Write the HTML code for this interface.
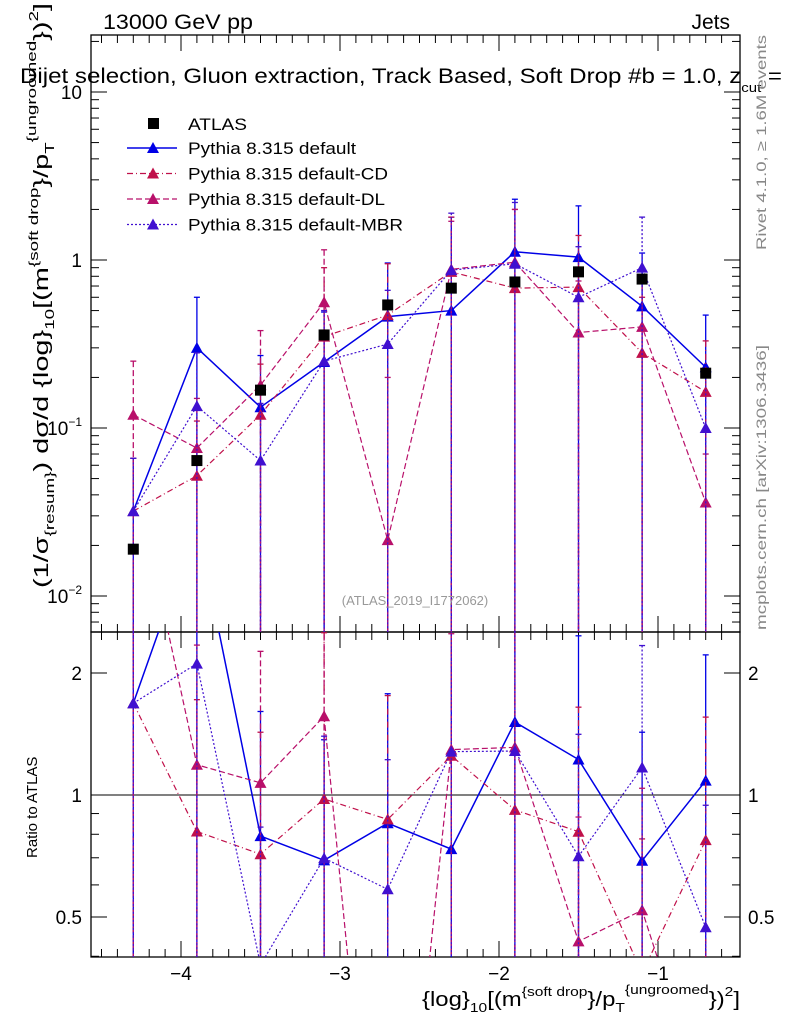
<!DOCTYPE html>
<html><head><meta charset="utf-8"><style>
body{margin:0;background:#fff;overflow:hidden;}
svg{font-family:"Liberation Sans",sans-serif;display:block;}
</style></head><body>
<svg id="c" width="786" height="1024" viewBox="0 0 786 1024">
<text x="103" y="29" font-size="21" textLength="150" lengthAdjust="spacingAndGlyphs">13000 GeV pp</text>
<text x="730" y="29" font-size="21" text-anchor="end">Jets</text>
<g id="frames"></g>
<g id="plot"></g>
<text x="20" y="83" font-size="21" textLength="762" lengthAdjust="spacingAndGlyphs">Dijet selection, Gluon extraction, Track Based, Soft Drop #b = 1.0, z<tspan font-size="13" dy="9">cut</tspan><tspan dy="-9"> =</tspan></text>
<g id="legend"></g>
<text x="415" y="605" font-size="13" fill="#999" text-anchor="middle">(ATLAS_2019_I1772062)</text>
<text transform="translate(766,250) rotate(-90)" font-size="14" fill="#888" textLength="215" lengthAdjust="spacingAndGlyphs">Rivet 4.1.0, ≥ 1.6M events</text>
<text transform="translate(766,630) rotate(-90)" font-size="14" fill="#888" textLength="285" lengthAdjust="spacingAndGlyphs">mcplots.cern.ch [arXiv:1306.3436]</text>
<text transform="translate(48,588) rotate(-90)" font-size="20" textLength="585" lengthAdjust="spacingAndGlyphs">(1/σ<tspan font-size="13" dy="6">{resum}</tspan><tspan dy="-6">) dσ/d {log}</tspan><tspan font-size="13" dy="6">10</tspan><tspan dy="-6">[(m</tspan><tspan font-size="13" dy="-10">{soft drop</tspan><tspan dy="10">}/p</tspan><tspan font-size="13" dy="6">T</tspan><tspan font-size="13" dy="-18">{ungroomed</tspan><tspan dy="12">})</tspan><tspan font-size="13" dy="-10">2</tspan><tspan dy="10">]</tspan></text>
<text transform="translate(37,858) rotate(-90)" font-size="15">Ratio to ATLAS</text>
<text x="422" y="1006" font-size="20" textLength="318" lengthAdjust="spacingAndGlyphs">{log}<tspan font-size="13" dy="6">10</tspan><tspan dy="-6">[(m</tspan><tspan font-size="13" dy="-10">{soft drop</tspan><tspan dy="10">}/p</tspan><tspan font-size="13" dy="6">T</tspan><tspan font-size="13" dy="-18">{ungroomed</tspan><tspan dy="12">})</tspan><tspan font-size="13" dy="-10">2</tspan><tspan dy="10">]</tspan></text>
</svg>
<script>
const xCenters=[-4.3,-3.9,-3.5,-3.1,-2.7,-2.3,-1.9,-1.5,-1.1,-0.7];
const atlasVals=[0.019,0.064,0.168,0.358,0.54,0.68,0.74,0.85,0.77,0.212];
const defVals=[0.032,0.30,0.133,0.247,0.46,0.50,1.12,1.04,0.53,0.23];
const cdVals=[0.032,0.052,0.12,0.35,0.47,0.85,0.68,0.69,0.28,0.164];
const dlVals=[0.12,0.076,0.18,0.56,0.0215,0.88,0.97,0.37,0.40,0.036];
const mbrVals=[0.032,0.135,0.064,0.25,0.316,0.87,0.95,0.60,0.90,0.10];
const defUp=[0.066,0.60,0.27,0.49,0.96,1.8,2.3,2.1,1.1,0.47];
const cdUp=[0.066,0.11,0.24,0.9,0.95,1.8,2.0,1.4,0.6,0.33];
const dlUp=[0.25,0.15,0.38,1.15,0.2,1.7,2.0,0.75,0.8,0.07];
const mbrUp=[0.066,0.28,0.14,0.5,0.66,1.9,2.2,1.2,1.8,0.2];
const xTicks=[-4,-3,-2,-1];
const yTicks=[0.01,0.1,1,10];
const rTicks=[0.5,1,2];

const NS="http://www.w3.org/2000/svg";
const L=91,R=740,T=35,M=632,B=957;
const sx=v=>181+(v+4)*159;
const sy=v=>260-Math.log10(v)*168;
const ry=v=>795-Math.log2(v)*122;
function mk(p,tag,a){const e=document.createElementNS(NS,tag);for(const k in a)e.setAttribute(k,a[k]);p.appendChild(e);return e;}
const svg=document.getElementById('c');
const fr=document.getElementById('frames');
const plot=document.getElementById('plot');
const defs=mk(svg,'defs',{});
const cp1=mk(defs,'clipPath',{id:'cp1'});mk(cp1,'rect',{x:L,y:T,width:R-L,height:M-T});
const cp2=mk(defs,'clipPath',{id:'cp2'});mk(cp2,'rect',{x:L,y:M,width:R-L,height:B-M});

const f1=mk(fr,'rect',{x:L,y:T,width:R-L,height:M-T,fill:'none',stroke:'#000','stroke-width':1.3});


const f2=mk(fr,'rect',{x:L,y:M,width:R-L,height:B-M,fill:'none',stroke:'#000','stroke-width':1.3});


const one=mk(fr,'line',{x1:L,x2:R,y1:ry(1),y2:ry(1),stroke:'#000','stroke-width':1});



for(let v=-4.5;v<=-0.5;v+=0.1){const x=sx(v);if(x<L||x>R)continue;const major=Math.abs(v-Math.round(v))<0.01;const len=major?16:8;
 [[T,1],[M,-1],[M,1],[B,-1]].forEach(([y,d])=>mk(fr,'line',{x1:x,x2:x,y1:y,y2:y+d*len,stroke:'#000'}));}
xTicks.forEach(v=>{const t=mk(fr,'text',{x:sx(v),y:980,'font-size':19,'text-anchor':'middle'});t.textContent='−'+Math.abs(v);
 
 });
for(let d=-3;d<=1;d++)for(let m=1;m<=9;m++){const v=m*Math.pow(10,d);const y=sy(v);if(y<T||y>M)continue;const len=m==1?16:8;
 mk(fr,'line',{x1:L,x2:L+len,y1:y,y2:y,stroke:'#000'});mk(fr,'line',{x1:R,x2:R-len,y1:y,y2:y,stroke:'#000'});}
yTicks.forEach(v=>{const y=sy(v);const t=mk(fr,'text',{x:82,y:y+7,'font-size':19,'text-anchor':'end'});
 if(v==0.01){t.innerHTML='10<tspan font-size="12" dy="-9">−2</tspan>';}else if(v==0.1){t.innerHTML='10<tspan font-size="12" dy="-9">−1</tspan>';}else t.textContent=v;
 
 });
[0.4,0.5,0.6,0.7,0.8,0.9,1,2].forEach(v=>{const y=ry(v);const len=(v==0.5||v==1||v==2)?16:8;
 mk(fr,'line',{x1:L,x2:L+len,y1:y,y2:y,stroke:'#000'});mk(fr,'line',{x1:R,x2:R-len,y1:y,y2:y,stroke:'#000'});});
rTicks.forEach(v=>{const y=ry(v)+7;
 const t=mk(fr,'text',{x:82,y:y,'font-size':19,'text-anchor':'end'});t.textContent=v;
 
 
 const t2=mk(fr,'text',{x:748,y:y,'font-size':19});t2.textContent=v;
 
 });

const series=[
 {name:'default',vals:defVals,up:defUp,col:'#0000e6',dash:'',w:1.5,label:'Pythia 8.315 default',tl:168},
 {name:'default-cd',vals:cdVals,up:cdUp,col:'#c0104a',dash:'6,3,1,3',w:1.2,label:'Pythia 8.315 default-CD',tl:200},
 {name:'default-dl',vals:dlVals,up:dlUp,col:'#b8106a',dash:'6,3',w:1.2,label:'Pythia 8.315 default-DL',tl:197},
 {name:'default-mbr',vals:mbrVals,up:mbrUp,col:'#4010d0',dash:'2,2',w:1.2,label:'Pythia 8.315 default-MBR',tl:215}];
function tri(p,x,y,c){return mk(p,'polygon',{points:`${x},${y-6} ${x-6},${y+5} ${x+6},${y+5}`,fill:c});}
const g1=mk(plot,'g',{'clip-path':'url(#cp1)'});
const g2=mk(plot,'g',{'clip-path':'url(#cp2)'});
series.forEach(s=>{
 const gg=mk(g1,'g',{});
 
 
 const gr=mk(g2,'g',{});
 
 
 mk(gg,'polyline',{points:xCenters.map((x,i)=>sx(x)+','+sy(s.vals[i])).join(' '),fill:'none',stroke:s.col,'stroke-width':s.w,'stroke-dasharray':s.dash});
 mk(gr,'polyline',{points:xCenters.map((x,i)=>sx(x)+','+ry(s.vals[i]/atlasVals[i])).join(' '),fill:'none',stroke:s.col,'stroke-width':s.w,'stroke-dasharray':s.dash});
 xCenters.forEach((x,i)=>{const X=sx(x);
  mk(gg,'line',{x1:X,x2:X,y1:sy(s.up[i]),y2:M,stroke:s.col,'stroke-width':1.3,'stroke-dasharray':s.dash});
  mk(gg,'line',{x1:X-3,x2:X+3,y1:sy(s.up[i]),y2:sy(s.up[i]),stroke:s.col,'stroke-width':1.3});
  const m=tri(gg,X,sy(s.vals[i]),s.col);
  
  
  const ru=s.up[i]/atlasVals[i];
  mk(gr,'line',{x1:X,x2:X,y1:ry(ru),y2:B,stroke:s.col,'stroke-width':1.3,'stroke-dasharray':s.dash});
  mk(gr,'line',{x1:X-3,x2:X+3,y1:ry(ru),y2:ry(ru),stroke:s.col,'stroke-width':1.3});
  tri(gr,X,ry(s.vals[i]/atlasVals[i]),s.col);
 });
});
xCenters.forEach((x,i)=>{const r=mk(g1,'rect',{x:sx(x)-5.5,y:sy(atlasVals[i])-5.5,width:11,height:11,fill:'#000'});
 
 });

const lg=document.getElementById('legend');
mk(lg,'rect',{x:148,y:118,width:11,height:11,fill:'#000'});
const lt=mk(lg,'text',{x:188,y:130,'font-size':17,textLength:59,lengthAdjust:'spacingAndGlyphs'});lt.textContent='ATLAS';
series.forEach((s,i)=>{const y=148+i*25.5;
 const e=mk(lg,'g',{});
 
 
 mk(e,'line',{x1:127,x2:177,y1:y,y2:y,stroke:s.col,'stroke-width':s.w,'stroke-dasharray':s.dash});
 tri(e,153,y,s.col);
 const t=mk(e,'text',{x:188,y:y+6,'font-size':17,textLength:s.tl,lengthAdjust:'spacingAndGlyphs'});t.textContent=s.label;});
</script>
</body></html>
